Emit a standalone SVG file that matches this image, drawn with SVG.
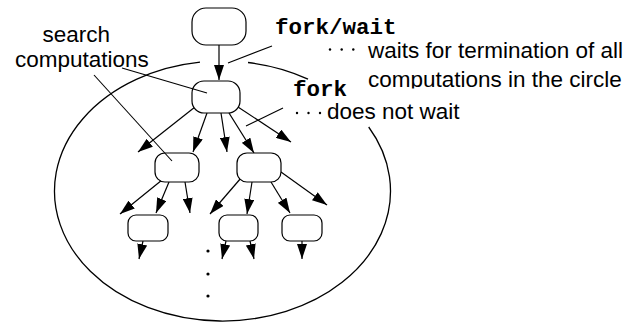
<svg xmlns="http://www.w3.org/2000/svg" width="627" height="322" viewBox="0 0 627 322">
  <style>
    .node { fill: #fff; stroke: #000; stroke-width: 1.2; }
    .edge { stroke: #000; stroke-width: 1.2; fill: none; marker-end: url(#arr); }
    .lead { stroke: #000; stroke-width: 1.1; fill: none; }
    .circ { stroke: #000; stroke-width: 1.3; fill: none; }
    .sans { font-family: "Liberation Sans", Arial, sans-serif; font-size: 22.5px; fill: #000; }
    .mono { font-family: "Liberation Mono", "Courier New", monospace; font-size: 22.5px; font-weight: bold; fill: #000; }
  </style>
  <defs>
    <marker id="arr" markerUnits="userSpaceOnUse" markerWidth="15" markerHeight="10" refX="15" refY="5" orient="auto">
      <path d="M0,0 L15,5 L0,10 z" fill="#000"/>
    </marker>
    <clipPath id="cut">
      <rect x="0" y="0" width="627" height="88.5"/>
    </clipPath>
  </defs>
  <rect width="627" height="322" fill="#fff"/>

  <g id="circle">
    <path class="circ" d="M 368.7 127 A 168 130 0 1 1 200 62.2"/>
    <path class="circ" d="M 248 62.5 A 168 130 0 0 1 308 79.1"/>
  </g>

  <g id="connectors">
    <line class="edge" x1="219" y1="45" x2="219" y2="80"/>
    <line class="edge" x1="195" y1="107" x2="138" y2="152"/>
    <line class="edge" x1="207" y1="113" x2="193" y2="152"/>
    <line class="edge" x1="221" y1="113" x2="227" y2="152"/>
    <line class="edge" x1="229" y1="113" x2="254" y2="153"/>
    <line class="edge" x1="238" y1="107" x2="291" y2="142"/>
    <line class="edge" x1="162" y1="180" x2="120" y2="214"/>
    <line class="edge" x1="169" y1="182" x2="156" y2="213"/>
    <line class="edge" x1="185" y1="182" x2="190" y2="213"/>
    <line class="edge" x1="241" y1="178" x2="210" y2="214"/>
    <line class="edge" x1="252" y1="182" x2="247" y2="214"/>
    <line class="edge" x1="271" y1="182" x2="290" y2="213"/>
    <line class="edge" x1="281" y1="172" x2="327" y2="205"/>
    <line class="edge" x1="143" y1="241" x2="139" y2="259"/>
    <line class="edge" x1="226" y1="241" x2="222" y2="259"/>
    <line class="edge" x1="250" y1="241" x2="254" y2="259"/>
    <line class="edge" x1="302" y1="241" x2="302" y2="259"/>
  </g>

  <g id="n-top"><rect class="node" x="192" y="8" width="54" height="37" rx="14"/></g>
  <g id="n-fork"><rect class="node" x="192" y="81" width="48" height="32" rx="12"/></g>
  <g id="n-l1"><rect class="node" x="155" y="153" width="44" height="29" rx="10"/></g>
  <g id="n-r1"><rect class="node" x="237" y="153" width="44" height="29" rx="10"/></g>
  <g id="n-l2"><rect class="node" x="128" y="215" width="40" height="26" rx="8"/></g>
  <g id="n-m2"><rect class="node" x="219" y="215" width="39" height="26" rx="8"/></g>
  <g id="n-r2"><rect class="node" x="282" y="215" width="40" height="26" rx="8"/></g>

  <g id="dots" fill="#000">
    <circle cx="208" cy="251" r="1.6"/>
    <circle cx="208" cy="274" r="1.6"/>
    <circle cx="208" cy="296" r="1.6"/>
    <circle cx="330" cy="49.5" r="1.2"/>
    <circle cx="341.7" cy="49.5" r="1.2"/>
    <circle cx="353.3" cy="49.5" r="1.2"/>
    <circle cx="297" cy="113" r="1.2"/>
    <circle cx="308.5" cy="113" r="1.2"/>
    <circle cx="320" cy="113" r="1.2"/>
  </g>

  <g id="leaders">
    <line class="lead" x1="272" y1="46" x2="228" y2="63"/>
    <line class="lead" x1="283" y1="108" x2="246" y2="126"/>
    <line class="lead" x1="122" y1="68" x2="207" y2="93"/>
    <line class="lead" x1="94" y1="75" x2="172" y2="161"/>
  </g>

  <g id="labels">
    <text class="sans" x="42.5" y="42" font-size="21">search</text>
    <text class="sans" x="15" y="66.5" font-size="21.5">computations</text>
    <text class="mono" x="275" y="34">fork/wait</text>
    <text class="sans" x="368" y="58">waits for termination of all</text>
    <text class="sans" x="368" y="87" clip-path="url(#cut)">computations in the circle</text>
    <text class="mono" x="293" y="96">fork</text>
    <text class="sans" x="327" y="119">does not wait</text>
  </g>
</svg>
